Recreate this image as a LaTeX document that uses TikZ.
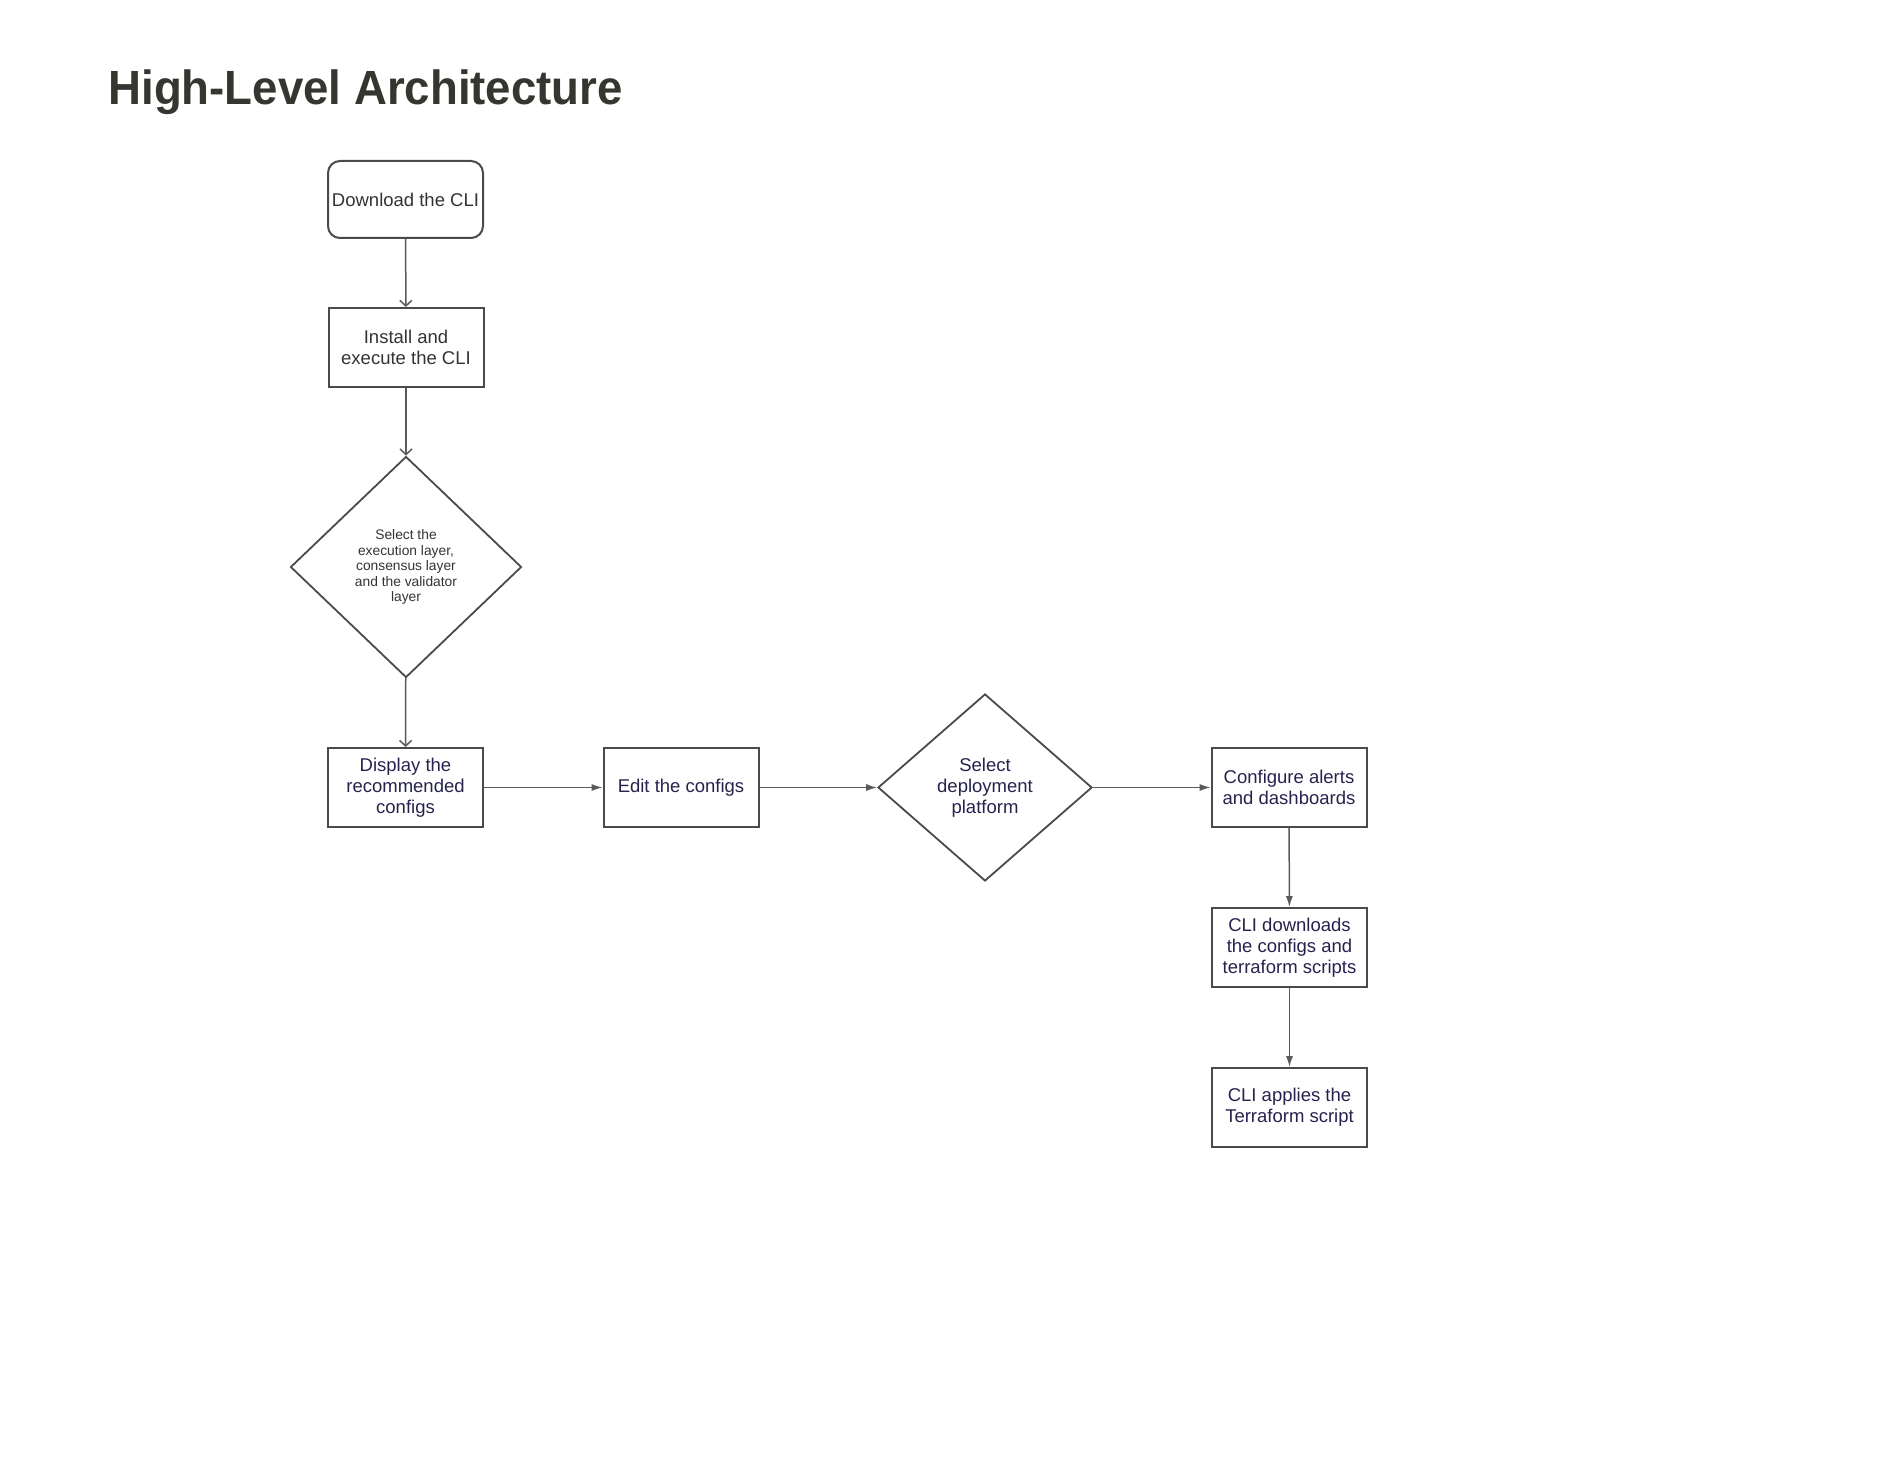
\documentclass[tikz,border=0pt]{standalone}
\usepackage{fontspec}
\setmainfont{Liberation Sans}
\newfontfamily\titlefont[FakeStretch=0.95]{Liberation Sans}
\usetikzlibrary{shapes.geometric,arrows.meta}
\definecolor{titlecol}{HTML}{37352F}
\definecolor{linecol}{HTML}{4A4A4A}
\definecolor{conncol}{HTML}{5A5A5A}
\definecolor{greytext}{HTML}{333333}
\definecolor{navytext}{HTML}{25234D}
\tikzset{
  box/.style={draw=linecol, line width=1pt, rectangle, minimum width=77.5pt, minimum height=39.5pt, inner sep=0pt, align=center, font=\fontsize{9.25pt}{10.5pt}\selectfont},
  roundbox/.style={box, rounded corners=6pt},
  dia/.style={draw=linecol, line width=0.9pt, diamond, inner sep=0pt, align=center, font=\fontsize{9.25pt}{10.5pt}\selectfont},
  openarr/.style={draw=conncol, line width=0.75pt, -{Straight Barb[length=2.8pt,width=6pt]}},
  fillarr/.style={draw=conncol, line width=0.75pt, -{Latex[length=5.5pt,width=3.6pt]}},
}
\begin{document}
\begin{tikzpicture}[x=0.5pt,y=-0.5pt]
\useasboundingbox (0,0) rectangle (1878,1460);
\node[anchor=base west, text=titlecol, font=\titlefont\bfseries\fontsize{24pt}{28pt}\selectfont, inner sep=0pt] (title) at (108,105) {High-Level Architecture};

\node[roundbox, text=greytext, minimum height=38.5pt] (dl) at (405.5,199.5) {Download the CLI};
\node[box, text=greytext] (inst) at (406,347.5) {Install and\\execute the CLI};
\node[dia, text=greytext, minimum width=115.5pt, minimum height=110.5pt, font=\fontsize{6.9pt}{7.75pt}\selectfont] (sel) at (406,567) {Select the\\execution layer,\\consensus layer\\and the validator\\layer};
\node[box, text=navytext] (disp) at (405.5,787.5) {Display the\\recommended\\configs};
\node[box, text=navytext] (edit) at (681,787.5) {Edit the configs};
\node[dia, text=navytext, minimum width=107pt, minimum height=93.5pt] (plat) at (985,787.5) {Select\\deployment\\platform};
\node[box, text=navytext] (conf) at (1289,787.5) {Configure alerts\\and dashboards};
\node[box, text=navytext] (down) at (1289.5,947.5) {CLI downloads\\the configs and\\terraform scripts};
\node[box, text=navytext] (apply) at (1289.5,1107.5) {CLI applies the\\Terraform script};

\draw[openarr] (dl) -- (inst);
\draw[openarr] (inst) -- (sel);
\draw[openarr] (sel) -- (disp);
\draw[fillarr] (disp) -- (edit);
\draw[fillarr] (edit) -- (plat);
\draw[fillarr] (plat) -- (conf);
\draw[fillarr] (conf) -- (down);
\draw[fillarr] (down) -- (apply);
\end{tikzpicture}
\end{document}
